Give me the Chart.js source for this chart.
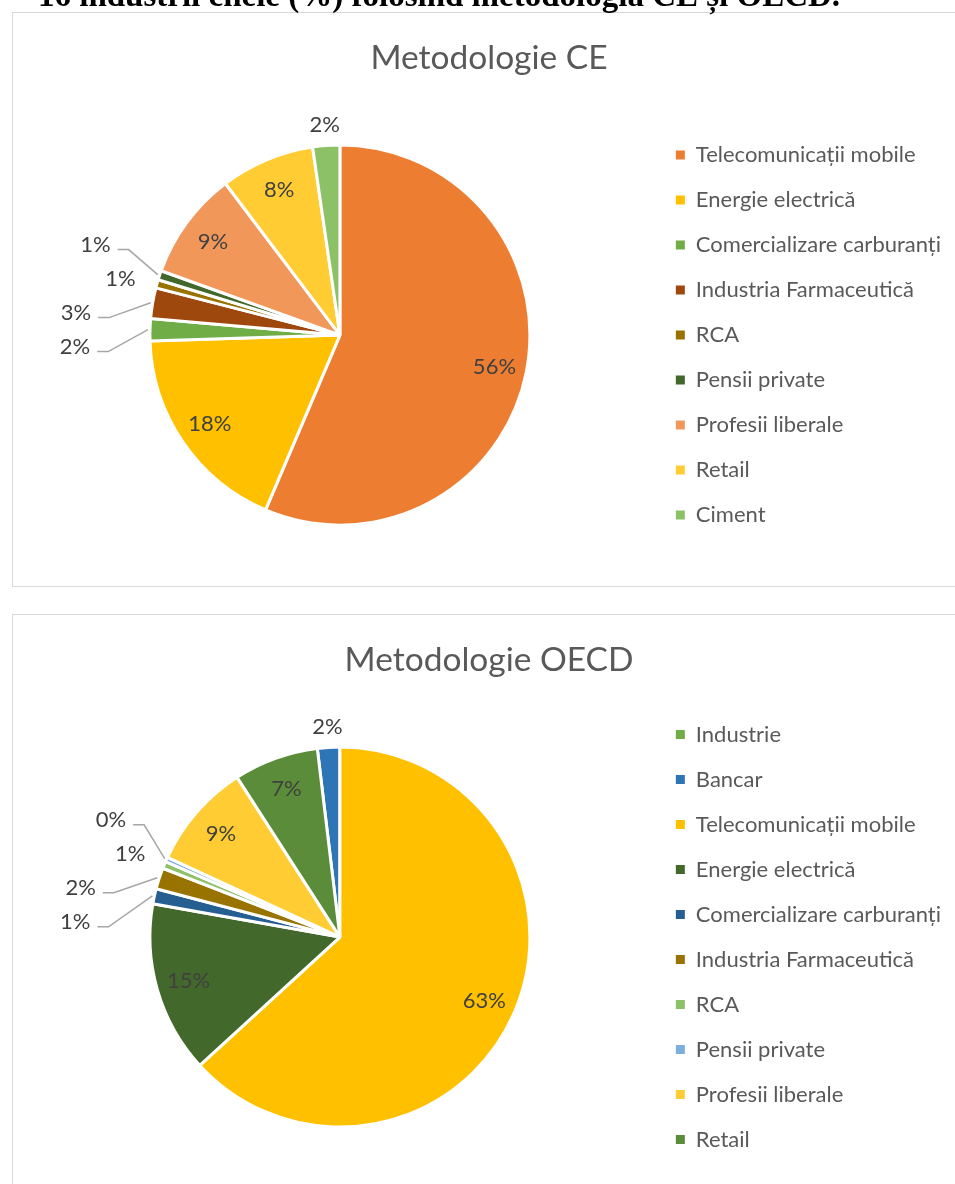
<!DOCTYPE html>
<html lang="ro">
<head>
<meta charset="utf-8">
<title>Metodologie CE și OECD</title>
<script src="https://cdn.jsdelivr.net/npm/chart.js@4.4.1/dist/chart.umd.min.js"></script>
<style>
  html, body { margin: 0; padding: 0; background: #fff; }
  #page { position: relative; width: 955px; height: 1184px; overflow: hidden; }
  .box { position: absolute; left: 12px; width: 958px; height: 575px; border: 1px solid #d9d9d9; box-sizing: border-box; background: #fff; }
  #boxCE { top: 12px; }
  #boxOECD { top: 614px; }
  .box canvas { display: block; }
  #heading { position: absolute; left: 38px; top: -21px; margin: 0; font: bold 33px "Liberation Serif", serif; color: #000; white-space: nowrap; line-height: 1; }
</style>
</head>
<body>
<div id="page">
  <div class="box" id="boxCE"><canvas id="chartCE" width="956" height="573"></canvas></div>
  <div class="box" id="boxOECD"><canvas id="chartOECD" width="956" height="573"></canvas></div>
  <h1 id="heading">16 industrii cheie (%) folosind metodologia CE și OECD.</h1>
</div>
<script>
// Metodologie CE
const ceLabels = ['Telecomunicații mobile', 'Energie electrică', 'Comercializare carburanți', 'Industria Farmaceutică', 'RCA', 'Pensii private', 'Profesii liberale', 'Retail', 'Ciment'];
const ceValues = [56.4, 18.1, 1.9, 2.6, 0.7, 0.8, 9.2, 8.0, 2.3];
const ceColors = ['#ED7D31', '#FFC000', '#70AD47', '#9E480E', '#997300', '#43682B', '#F1975A', '#FFCD33', '#8CC168'];

// Metodologie OECD
const oecdLabels = ['Industrie', 'Bancar', 'Telecomunicații mobile', 'Energie electrică', 'Comercializare carburanți', 'Industria Farmaceutică', 'RCA', 'Pensii private', 'Profesii liberale', 'Retail'];
const oecdValues = [0, 1.9, 63.2, 14.6, 1.3, 1.8, 0.6, 0.4, 9.0, 7.2];
const oecdColors = ['#70AD47', '#2E75B6', '#FFC000', '#43682B', '#255E91', '#997300', '#8CC168', '#7CAFDD', '#FFCD33', '#5B8C3A'];

const FONT = 'Lato';
const TEXT_GREY = '#595959';
const LABEL_GREY = '#404040';

// spread overlapping outside labels vertically, keeping each group centred on its mean
function spreadLabels(items, gap) {
  items.sort((a, b) => a.y0 - b.y0);
  let groups = items.map(it => ({ items: [it], y: it.y0 }));
  let merged = true;
  while (merged) {
    merged = false;
    for (let i = 0; i < groups.length - 1; i++) {
      const g = groups[i], h = groups[i + 1];
      const gBottom = g.y + (g.items.length - 1) * gap / 2;
      const hTop = h.y - (h.items.length - 1) * gap / 2;
      if (hTop - gBottom < gap) {
        const all = g.items.concat(h.items);
        const mean = all.reduce((s, it) => s + it.y0, 0) / all.length;
        groups.splice(i, 2, { items: all, y: mean });
        merged = true;
        break;
      }
    }
  }
  groups.forEach(g => g.items.forEach((it, k) => {
    it.y = g.y + (k - (g.items.length - 1) / 2) * gap;
    it.grouped = g.items.length > 1;
  }));
}

// percentage labels, inside for big slices, outside (with leader lines) for small ones
const pieLabels = {
  id: 'pieLabels',
  afterDatasetsDraw(chart) {
    const ctx = chart.ctx;
    const meta = chart.getDatasetMeta(0);
    const values = chart.data.datasets[0].data;
    const total = values.reduce((s, v) => s + v, 0);
    const left = [], right = [];
    ctx.save();
    ctx.font = '22px ' + FONT;
    ctx.fillStyle = LABEL_GREY;
    ctx.textBaseline = 'middle';
    meta.data.forEach((arc, i) => {
      if (!values[i]) return;
      const p = arc.getProps(['x', 'y', 'startAngle', 'endAngle', 'outerRadius'], true);
      const mid = (p.startAngle + p.endAngle) / 2;
      const share = values[i] / total * 100;
      const text = Math.round(share) + '%';
      const cos = Math.cos(mid), sin = Math.sin(mid);
      if (share >= 5) {
        ctx.textAlign = 'center';
        ctx.fillText(text, p.x + cos * p.outerRadius * 0.83, p.y + sin * p.outerRadius * 0.83);
      } else {
        const item = { text, cx: p.x, cy: p.y, r: p.outerRadius, cos, sin, y0: p.y + sin * (p.outerRadius + 12) };
        (cos < 0 ? left : right).push(item);
      }
    });

    [left, right].forEach((side, s) => {
      spreadLabels(side, 34);
      const dir = s === 0 ? -1 : 1;
      side.forEach(it => {
        if (!it.grouped) {
          ctx.textAlign = 'center';
          ctx.fillText(it.text, it.cx + it.cos * (it.r + 21), it.cy + it.sin * (it.r + 21));
          return;
        }
        const rr = it.r + 18;
        const dy = it.y - it.cy;
        let edge = it.cx + dir * (Math.sqrt(Math.max(rr * rr - dy * dy, 0)) + 4);
        const moved = Math.abs(it.y - it.y0) > 8;
        if (moved) {
          edge += dir * 38;
          ctx.strokeStyle = '#A6A6A6';
          ctx.lineWidth = 1.5;
          ctx.beginPath();
          ctx.moveTo(edge - dir * 7, it.y + 5);
          ctx.lineTo(edge - dir * 18, it.y + 5);
          ctx.lineTo(it.cx + it.cos * (it.r + 2), it.cy + it.sin * (it.r + 2));
          ctx.stroke();
        }
        ctx.textAlign = dir < 0 ? 'right' : 'left';
        ctx.fillText(it.text, edge, it.y);
      });
    });
    ctx.restore();
  }
};

function makePie(canvasId, title, labels, values, colors, rotation) {
  return new Chart(document.getElementById(canvasId), {
    type: 'pie',
    data: {
      labels: labels,
      datasets: [{
        data: values,
        backgroundColor: colors,
        borderColor: '#ffffff',
        borderWidth: 3,
        radius: 190,
        rotation: rotation
      }]
    },
    options: {
      responsive: false,
      animation: false,
      layout: { padding: { left: 14, right: 18, top: 0, bottom: 10 } },
      plugins: {
        title: {
          display: true,
          text: title,
          color: TEXT_GREY,
          font: { family: FONT, size: 33.5, weight: 'normal' },
          padding: { top: 25, bottom: 16 }
        },
        legend: {
          position: 'right',
          fullSize: false,
          labels: {
            color: TEXT_GREY,
            font: { family: FONT, size: 22 },
            boxWidth: 9,
            boxHeight: 9,
            padding: 23,
            generateLabels(chart) {
              return Chart.overrides.doughnut.plugins.legend.labels.generateLabels(chart)
                .map(item => Object.assign(item, { lineWidth: 0 }));
            }
          }
        },
        tooltip: { enabled: false }
      }
    },
    plugins: [pieLabels]
  });
}

makePie('chartCE', 'Metodologie CE', ceLabels, ceValues, ceColors, 0);

// the OECD pie starts Telecomunicații mobile at 12 o'clock, so the first two categories sit just before it
const oecdTotal = oecdValues.reduce((s, v) => s + v, 0);
makePie('chartOECD', 'Metodologie OECD', oecdLabels, oecdValues, oecdColors, -360 * (oecdValues[0] + oecdValues[1]) / oecdTotal);
</script>
</body>
</html>
